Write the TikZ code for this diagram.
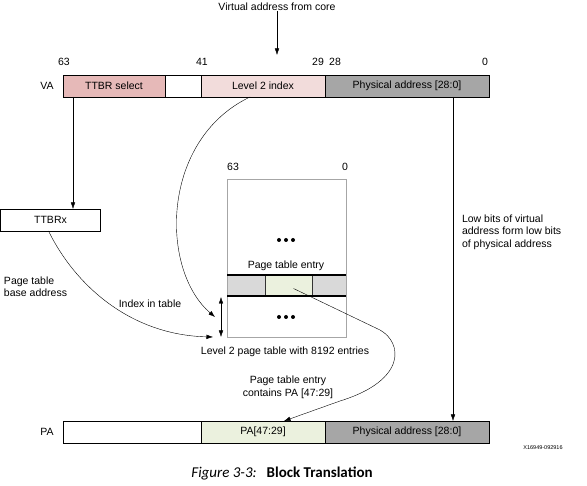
\documentclass[tikz,border=0pt]{standalone}
\usepackage{fontspec}
\setmainfont{Liberation Sans}
\newfontfamily\capfont{Carlito}
\usetikzlibrary{positioning, arrows.meta}
\definecolor{ttbrpink}{HTML}{E6B9B8}
\definecolor{idxpink}{HTML}{F2DCDB}
\definecolor{physgray}{HTML}{A6A6A6}
\definecolor{entrygray}{HTML}{D9D9D9}
\definecolor{entrygreen}{HTML}{EBF1DE}
\definecolor{tablegray}{HTML}{A6A6A6}
\tikzset{
>={Latex[length=6.5pt,width=4.5pt]}, % small filled arrow heads
every node/.style={font=\fontsize{10.5}{12.5}\selectfont, inner sep=0pt, outer sep=0pt},
field/.style={draw, line width=0.9pt, minimum height=22pt, anchor=west}, % one bit field of an address
entry/.style={minimum height=21pt, anchor=west}, % one part of the table entry
}

\begin{document}
\begin{tikzpicture}[x=1pt, y=-1pt]
  \useasboundingbox (0,0) rectangle (587,486);

  % virtual address
  \node (core) at (277,7) {Virtual address from core};
  \coordinate (vain) at (277,55);
  \node (vaname) at (47,86) {VA};
  \node[field, fill=ttbrpink, minimum width=102pt] (va1) at (63,86) {TTBR select};
  \node[field, right=0pt of va1, minimum width=36pt] (va2) {};
  \node[field, fill=idxpink, right=0pt of va2, minimum width=124pt] (va3) {Level 2 index};
  \node[field, fill=physgray, right=0pt of va3, minimum width=164pt] (va4) {Physical address [28:0]};
  \node (b63) at (64,62) {63};
  \node (b41) at (202,62) {41};
  \node (b29) at (318,62) {29};
  \node (b28) at (335,62) {28};
  \node (b0) at (485,62) {0};

  \node[field, minimum width=100pt] (ttbrx) at (0.5,220) {TTBRx};
  \node[align=left, anchor=west] (baselbl) at (4,286.5) {Page table\\base address};
  \node (idxlbl) at (150,304) {Index in table};

  % level 2 table
  \node[entry, fill=entrygray, minimum width=38pt] (pte1) at (227,285.5) {};
  \node[entry, fill=entrygreen, right=0pt of pte1, minimum width=47pt] (pte2) {};
  \node[entry, fill=entrygray, right=0pt of pte2, minimum width=34pt] (pte3) {};
  \node[draw=tablegray, line width=0.8pt, minimum width=119pt, minimum height=158pt] (table) at (286.5,258) {};
  \draw[line width=0.8pt, black!80] (pte1.north east) -- (pte1.south east)
        (pte2.north east) -- (pte2.south east);
  \draw[line width=1.6pt] (pte1.north west) -- (pte3.north east)
        (pte1.south west) -- (pte3.south east);
  \node (ptelbl) at (286,266) {Page table entry};
  \foreach \dy in {240,317}
    \foreach \dx in {-7,0,7}
      \fill (286+\dx,\dy) circle (2pt);
  \node (t63) at (233,167) {63};
  \node (t0) at (345,167) {0};
  \node (tablelbl) at (285,352) {Level 2 page table with 8192 entries};
  \coordinate (idxtop) at (221,297);
  \coordinate (idxbot) at (221,337);
  \coordinate (basein) at (213,337);
  \coordinate (idxin) at (215,317);

  \node[align=left, anchor=west] (lowlbl) at (462,232) {Low bits of virtual\\address form low bits\\of physical address};
  \node[align=center] (containlbl) at (288,387.5) {Page table entry\\contains PA [47:29]};

  % physical address
  \node (paname) at (47,432) {PA};
  \node[field, minimum width=138pt] (pa1) at (63,432) {};
  \node[field, fill=entrygreen, right=0pt of pa1, minimum width=124pt] (pa2) {PA[47:29]};
  \node[field, fill=physgray, right=0pt of pa2, minimum width=164pt] (pa3) {Physical address [28:0]};
  \node[font=\fontsize{5.5}{6}\selectfont] (figid) at (543,448) {X16949-092916};
  \node[font=\capfont\fontsize{15}{17}\selectfont] (caption) at (282,474) {\textit{Figure 3-3:}\hspace{10pt}\textbf{Block Translation}};

  \draw[->] (core.south) -- (vain);
  \draw[->] ([xshift=10pt]va1.south west) -- ([xshift=10pt]va1.south west |- ttbrx.north);
  \draw[->] ([xshift=-2pt]ttbrx.south) .. controls (75,285) and (130,335) .. (basein);
  \draw[->] ([xshift=-13pt]va3.south) .. controls (160,140) and (160,270) .. (idxin);
  \draw[<->] (idxtop) -- (idxbot);
  \draw[->] ([shift={(5,3)}]pte2.center) -- (380,330) .. controls (402,342) and (408,380) .. (340,401) -- ([xshift=21pt]pa2.north);
  \draw[->] ([xshift=46pt]va4.south) -- ([xshift=46pt]va4.south |- pa3.north);

\end{tikzpicture}
\end{document}
